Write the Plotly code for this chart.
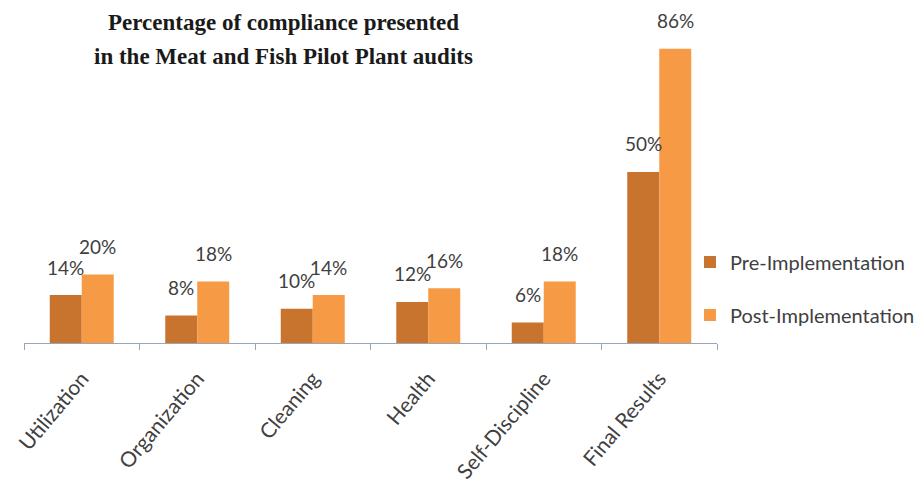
import plotly.graph_objects as go

categories = ["Utilization", "Organization", "Cleaning", "Health", "Self-Discipline", "Final Results"]
pre_values = [14, 8, 10, 12, 6, 50]
post_values = [20, 18, 14, 16, 18, 86]
series_names = ["Pre-Implementation", "Post-Implementation"]
title_lines = ["Percentage of compliance presented", "in the Meat and Fish Pilot Plant audits"]

PRE_COLOR = "#C8742F"
POST_COLOR = "#F79A45"
TEXT_COLOR = "#404040"
AXIS_COLOR = "#97A6BA"
SANS = "Lato, 'Open Sans', sans-serif"
SERIF = "'Liberation Serif', 'Times New Roman', serif"

fig = go.Figure()
fig.add_trace(go.Bar(x=categories, y=pre_values, name=series_names[0],
                     marker=dict(color=PRE_COLOR, line=dict(width=0)),
                     legendgroup="pre"))
fig.add_trace(go.Bar(x=categories, y=post_values, name=series_names[1],
                     marker=dict(color=POST_COLOR, line=dict(width=0)),
                     legendgroup="post"))

annotations = []
for vals, shift in ((pre_values, -16), (post_values, 16)):
    for c, v in zip(categories, vals):
        annotations.append(dict(x=c, y=v, xref="x", yref="y", text=f"{v}%",
                                showarrow=False, xshift=shift, yshift=28,
                                yanchor="middle", xanchor="center",
                                font=dict(family=SANS, size=19, color=TEXT_COLOR)))

# title lines as real text
for line, ty in zip(title_lines, (1.042, 0.929)):
    annotations.append(dict(x=0.375, y=ty, xref="paper", yref="paper",
                            text=f"<b>{line}</b>", showarrow=False,
                            xanchor="center", yanchor="middle",
                            font=dict(family=SERIF, size=23, color="#1a1a1a")))

fig.update_layout(
    width=915, height=481,
    margin=dict(l=16, r=206, t=27, b=146, autoexpand=False),
    paper_bgcolor="white", plot_bgcolor="white",
    barmode="group", bargap=0.446, bargroupgap=0,
    xaxis=dict(showline=True, linecolor=AXIS_COLOR, linewidth=1,
               ticks="outside", tickson="boundaries", ticklen=6, tickcolor=AXIS_COLOR,
               tickangle=-50, showgrid=False, automargin=False,
               ticklabelstandoff=14,
               tickfont=dict(family=SANS, size=21, color=TEXT_COLOR)),
    yaxis=dict(range=[0, 90], visible=False, showgrid=False, zeroline=False),
    legend=dict(x=0.961, xanchor="left", y=0.177, yanchor="middle",
                traceorder="grouped", tracegroupgap=24, itemwidth=30,
                font=dict(family=SANS, size=20, color=TEXT_COLOR),
                bgcolor="rgba(0,0,0,0)"),
    annotations=annotations,
    showlegend=True,
)

fig.write_html("out.html")
